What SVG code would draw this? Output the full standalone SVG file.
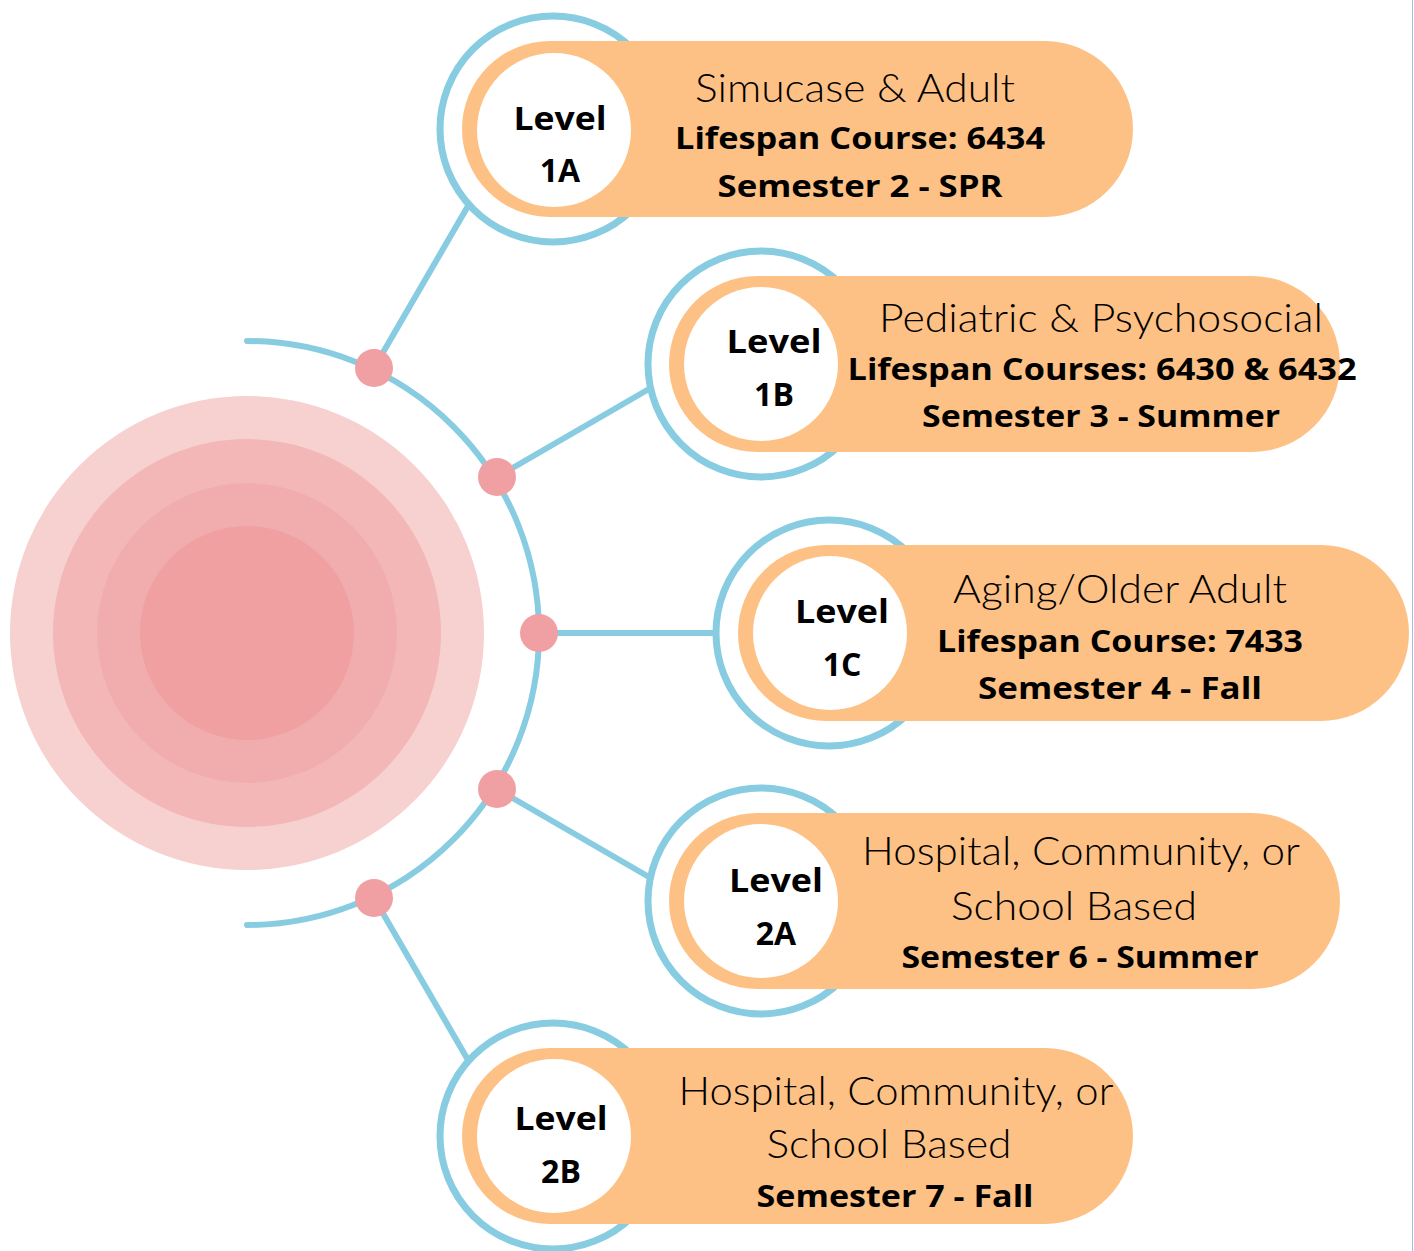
<svg xmlns="http://www.w3.org/2000/svg" width="1414" height="1251" viewBox="0 0 1414 1251">
<style>
.ring{fill:#fff;stroke:#88cce2;stroke-width:7}
.pill{fill:#fec185}
.hole{fill:#fff}
.conn{stroke:#88cce2;stroke-width:6;fill:none;stroke-linecap:round}
.dot{fill:#f0a0a2}
.lvl{font-family:"Open Sans",Lato,sans-serif;font-weight:700;font-size:32px;fill:#000;text-anchor:middle}
.ttl{font-family:Lato,"Noto Sans",sans-serif;font-weight:300;font-size:39px;fill:#000;text-anchor:middle}
.bld{font-family:"Open Sans",Lato,sans-serif;font-weight:700;font-size:30px;fill:#000;text-anchor:middle}
</style>
<rect width="1414" height="1251" fill="#fff"/>
<line x1="1412.5" y1="0" x2="1412.5" y2="1251" stroke="#aab8ea" stroke-width="1"/>
<g id="center">
<circle cx="247" cy="633" r="237" fill="#f7d0d0"/>
<circle cx="247" cy="633" r="194" fill="#f3b7b7"/>
<circle cx="247" cy="633" r="150" fill="#f1adad"/>
<circle cx="247" cy="633" r="107" fill="#f0a0a1"/>
</g>
<g id="connectors">
<path class="conn" d="M247 341 A292 292 0 0 1 247 925"/>
<line class="conn" x1="374" y1="368" x2="468" y2="206"/>
<line class="conn" x1="497" y1="477" x2="649" y2="389"/>
<line class="conn" x1="539" y1="633" x2="715" y2="633"/>
<line class="conn" x1="497" y1="789" x2="649" y2="877"/>
<line class="conn" x1="374" y1="898" x2="468" y2="1060"/>
<circle class="dot" cx="374" cy="368" r="19"/>
<circle class="dot" cx="497" cy="477" r="19"/>
<circle class="dot" cx="539" cy="633" r="19"/>
<circle class="dot" cx="497" cy="789" r="19"/>
<circle class="dot" cx="374" cy="898" r="19"/>
</g>
<g id="node-1A">
<circle class="ring" cx="553" cy="129" r="113"/>
<rect class="pill" x="462" y="41" width="671" height="176" rx="88"/>
<circle class="hole" cx="554" cy="130" r="77"/>
<text class="lvl" x="560" y="130" textLength="93" lengthAdjust="spacingAndGlyphs">Level</text>
<text class="lvl" x="560" y="182">1A</text>
<text class="ttl" x="855" y="102" textLength="320" lengthAdjust="spacingAndGlyphs">Simucase &amp; Adult</text>
<text class="bld" x="860" y="149" textLength="370" lengthAdjust="spacingAndGlyphs">Lifespan Course: 6434</text>
<text class="bld" x="860" y="197" textLength="285" lengthAdjust="spacingAndGlyphs">Semester 2 - SPR</text>
</g>
<g id="node-1B">
<circle class="ring" cx="761" cy="364" r="113"/>
<rect class="pill" x="669" y="276" width="671" height="176" rx="88"/>
<circle class="hole" cx="761" cy="364" r="77"/>
<text class="lvl" x="774" y="353" textLength="95" lengthAdjust="spacingAndGlyphs">Level</text>
<text class="lvl" x="774" y="406">1B</text>
<text class="ttl" x="1101" y="332" textLength="444" lengthAdjust="spacingAndGlyphs">Pediatric &amp; Psychosocial</text>
<text class="bld" x="1102" y="380" textLength="509" lengthAdjust="spacingAndGlyphs">Lifespan Courses: 6430 &amp; 6432</text>
<text class="bld" x="1101" y="427" textLength="358" lengthAdjust="spacingAndGlyphs">Semester 3 - Summer</text>
</g>
<g id="node-1C">
<circle class="ring" cx="829" cy="633" r="113"/>
<rect class="pill" x="738" y="545" width="671" height="176" rx="88"/>
<circle class="hole" cx="830" cy="633" r="77"/>
<text class="lvl" x="842" y="623" textLength="94" lengthAdjust="spacingAndGlyphs">Level</text>
<text class="lvl" x="842" y="676">1C</text>
<text class="ttl" x="1120" y="603" textLength="334" lengthAdjust="spacingAndGlyphs">Aging/Older Adult</text>
<text class="bld" x="1120" y="652" textLength="366" lengthAdjust="spacingAndGlyphs">Lifespan Course: 7433</text>
<text class="bld" x="1120" y="699" textLength="284" lengthAdjust="spacingAndGlyphs">Semester 4 - Fall</text>
</g>
<g id="node-2A">
<circle class="ring" cx="761" cy="901" r="113"/>
<rect class="pill" x="669" y="813" width="671" height="176" rx="88"/>
<circle class="hole" cx="761" cy="901" r="77"/>
<text class="lvl" x="776" y="892" textLength="94" lengthAdjust="spacingAndGlyphs">Level</text>
<text class="lvl" x="776" y="945">2A</text>
<text class="ttl" x="1081" y="865" textLength="438" lengthAdjust="spacingAndGlyphs">Hospital, Community, or</text>
<text class="ttl" x="1074" y="920" textLength="246" lengthAdjust="spacingAndGlyphs">School Based</text>
<text class="bld" x="1080" y="968" textLength="357" lengthAdjust="spacingAndGlyphs">Semester 6 - Summer</text>
</g>
<g id="node-2B">
<circle class="ring" cx="553" cy="1136" r="113"/>
<rect class="pill" x="462" y="1048" width="671" height="176" rx="88"/>
<circle class="hole" cx="554" cy="1136" r="77"/>
<text class="lvl" x="561" y="1130" textLength="93" lengthAdjust="spacingAndGlyphs">Level</text>
<text class="lvl" x="561" y="1183">2B</text>
<text class="ttl" x="896" y="1105" textLength="435" lengthAdjust="spacingAndGlyphs">Hospital, Community, or</text>
<text class="ttl" x="889" y="1158" textLength="245" lengthAdjust="spacingAndGlyphs">School Based</text>
<text class="bld" x="895" y="1207" textLength="277" lengthAdjust="spacingAndGlyphs">Semester 7 - Fall</text>
</g>
</svg>
